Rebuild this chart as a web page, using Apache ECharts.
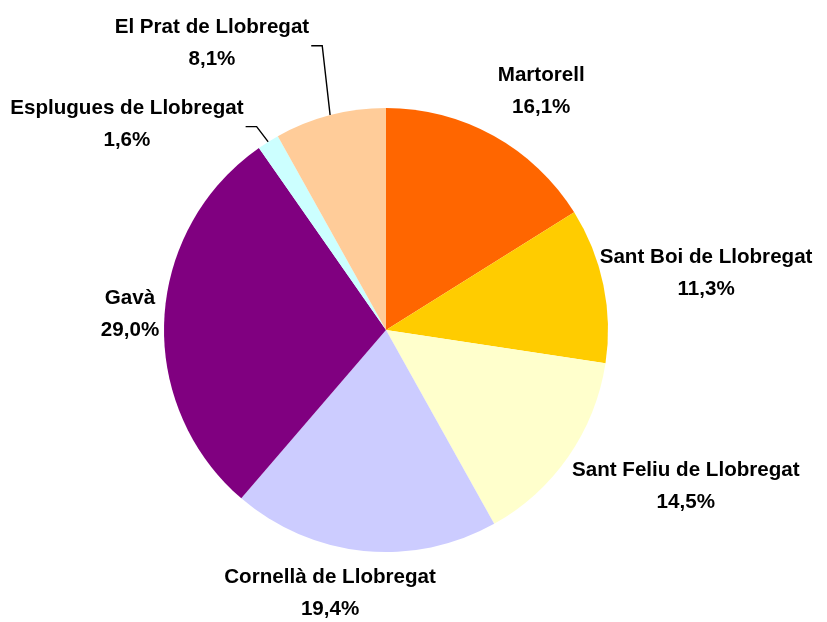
<!DOCTYPE html>
<html><head><meta charset="utf-8">
<script src="https://cdn.jsdelivr.net/npm/echarts@6/dist/echarts.min.js"></script>
<style>html,body{margin:0;padding:0;background:#fff}#c{width:827px;height:622px}</style>
</head><body><div id="c"></div>
<script>
const categories = ['Martorell','Sant Boi de Llobregat','Sant Feliu de Llobregat','Cornellà de Llobregat','Gavà','Esplugues de Llobregat','El Prat de Llobregat'];
const shares = [16.1, 11.3, 14.5, 19.4, 29.0, 1.6, 8.1];
const sliceColors = ['#FF6600','#FFCC00','#FFFFCC','#CCCCFF','#800080','#CCFFFF','#FFCC99'];
const withLeader = [false,false,false,false,false,true,true];

const CX = 386, CY = 330, R = 222;
// label centre placement: [distance from pie centre, angle clockwise from 12 o'clock]
const labelPolar = [[285,33],[325,80],[338,117.5],[269,192],[256.5,273.6],[330.6,308.4],[335,328.7]];

const total = shares.reduce((a,b)=>a+b,0);
function midAngle(i){ let s=0; for(let k=0;k<i;k++) s+=shares[k]; return (s+shares[i]/2)/total*360; }
function polar(r,deg){ const a=deg*Math.PI/180; return [CX+r*Math.sin(a), CY-r*Math.cos(a)]; }

const chart = echarts.init(document.getElementById('c'), null, {renderer:'canvas'});
chart.setOption({
  animation:false,
  backgroundColor:'#fff',
  series:[{
    type:'pie',
    center:[CX,CY],
    radius:R,
    startAngle:90,
    clockwise:true,
    avoidLabelOverlap:false,
    silent:true,
    itemStyle:{borderWidth:0},
    label:{
      show:true, position:'outside', color:'#000',
      fontFamily:'Liberation Sans, Arial, sans-serif', fontWeight:'bold', fontSize:20.6, lineHeight:32,
      formatter:p=>p.name+'\n'+p.value.toFixed(1).replace('.',',')+'%'
    },
    labelLine:{show:true, lineStyle:{color:'#000', width:1.4}},
    labelLayout:function(params){
      const i = params.dataIndex;
      const pos = polar(labelPolar[i][0], labelPolar[i][1]);
      const out = {x:pos[0], y:pos[1], align:'center', verticalAlign:'middle'};
      if (withLeader[i]) {
        const edge = polar(R, midAngle(i));
        const right = pos[0] + params.labelRect.width/2;
        out.labelLinePoints = [[right+2, pos[1]+2],[right+13, pos[1]+2], edge];
      }
      return out;
    },
    data: categories.map((n,i)=>({
      name:n, value:shares[i],
      itemStyle:{color:sliceColors[i]},
      labelLine:{show:withLeader[i]}
    }))
  }]
});
</script>
</body></html>
